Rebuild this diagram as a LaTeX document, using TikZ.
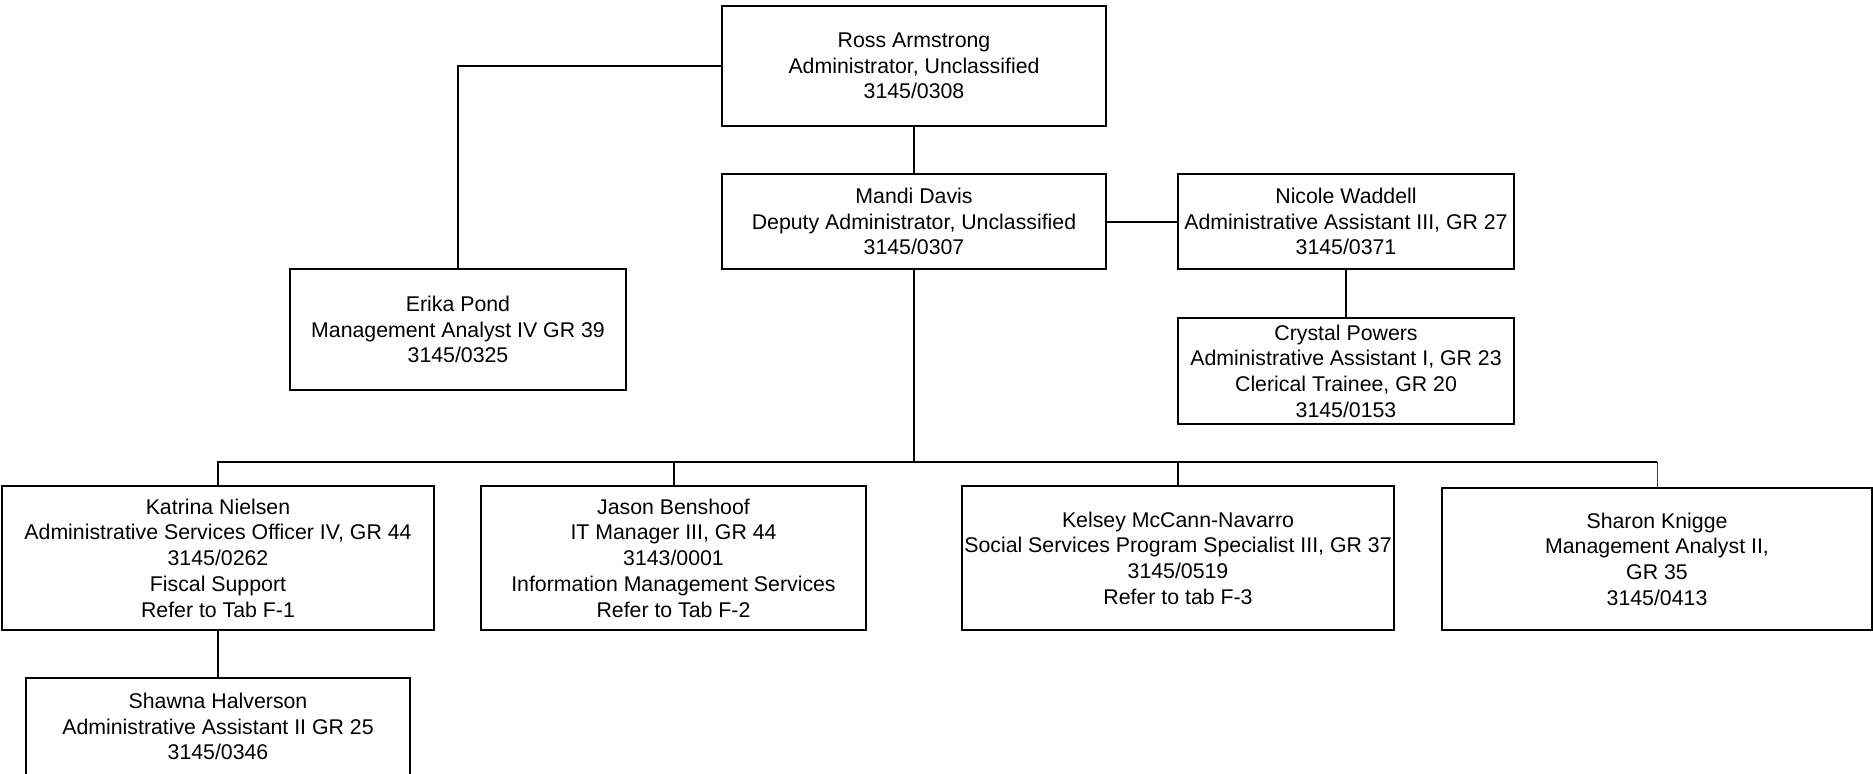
\documentclass[tikz,border=0pt]{standalone}
\usepackage{fontspec}
\setmainfont{Liberation Sans}
\begin{document}
\begin{tikzpicture}[x=0.5pt,y=-0.5pt,
  box/.style={draw, line width=1pt, inner sep=0pt, align=center, rectangle,
    font=\fontsize{10.65}{12.85}\selectfont},
  link/.style={line width=1pt},
  thinlink/.style={line width=0.5pt, draw=black!75}]
\useasboundingbox (0,0) rectangle (1873,773);
\fill[white] (0,0) rectangle (1873,773);

\node[box, minimum width=192pt, minimum height=60pt] (ross) at (914,66)
  {Ross Armstrong\\Administrator, Unclassified\\3145/0308};
\node[box, minimum width=192pt, minimum height=47.5pt] (mandi) at (914,221.5)
  {Mandi Davis\\Deputy Administrator, Unclassified\\3145/0307};
\node[box, minimum width=168pt, minimum height=47.5pt] (nicole) at (1346,221.5)
  {Nicole Waddell\\Administrative Assistant III, GR 27\\3145/0371};
\node[box, minimum width=168pt, minimum height=53pt] (crystal) at (1346,371)
  {Crystal Powers\\Administrative Assistant I, GR 23\\Clerical Trainee, GR 20\\3145/0153};
\node[box, minimum width=168pt, minimum height=60.5pt] (erika) at (458,329.5)
  {Erika Pond\\Management Analyst IV GR 39\\3145/0325};
\node[box, minimum width=216pt, minimum height=72pt] (katrina) at (218,558)
  {Katrina Nielsen\\Administrative Services Officer IV, GR 44\\3145/0262\\Fiscal Support\\Refer to Tab F-1};
\node[box, minimum width=192.5pt, minimum height=72pt] (jason) at (673.5,558)
  {Jason Benshoof\\IT Manager III, GR 44\\3143/0001\\Information Management Services\\Refer to Tab F-2};
\node[box, minimum width=216pt, minimum height=72pt] (kelsey) at (1178,558)
  {Kelsey McCann-Navarro\\Social Services Program Specialist III, GR 37\\3145/0519\\Refer to tab F-3};
\node[box, minimum width=215pt, minimum height=71pt] (sharon) at (1657,559)
  {Sharon Knigge\\Management Analyst II,\\GR 35\\3145/0413};
\node[box, minimum width=192pt, minimum height=48.5pt] (shawna) at (218,726.5)
  {Shawna Halverson\\Administrative Assistant II GR 25\\3145/0346};

\coordinate (bus) at (914,462);

\draw[link] (ross.west) -| (erika.north);
\draw[link] (ross.south) -- (mandi.north);
\draw[link] (mandi.east) -- (nicole.west);
\draw[link] (nicole.south) -- (crystal.north);
\draw[link] (mandi.south) -- (bus);
\draw[link] (katrina.north) |- (bus);
\draw[link] (bus) -- (bus -| sharon.north);
\draw[thinlink] (bus -| sharon.north) -- (sharon.north);
\draw[link] (bus -| jason.north) -- (jason.north);
\draw[link] (bus -| kelsey.north) -- (kelsey.north);
\draw[link] (katrina.south) -- (shawna.north);
\end{tikzpicture}
\end{document}
